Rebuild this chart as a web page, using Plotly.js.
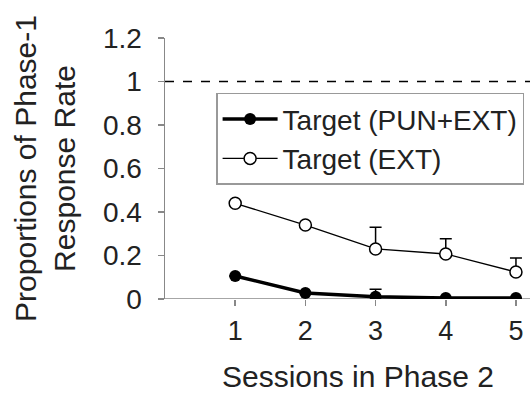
<!DOCTYPE html>
<html><head><meta charset="utf-8">
<script src="https://cdn.plot.ly/plotly-3.0.1.min.js"></script>
<style>html,body{margin:0;padding:0;background:#fff;}#chart{width:530px;height:394px;}</style>
</head><body><div id="chart"></div>
<script>
const sessions = [1, 2, 3, 4, 5];
const punExt = [0.106, 0.028, 0.010, 0.005, 0.005];
const punExtErr = [0, 0, 0.035, 0, 0];
const ext = [0.44, 0.34, 0.23, 0.207, 0.124];
const extErr = [0, 0, 0.10, 0.07, 0.065];
const zeros = [0, 0, 0, 0, 0];
const refLine = 1;
const yTicks = [0, 0.2, 0.4, 0.6, 0.8, 1, 1.2];
const yTickText = ['0', '0.2', '0.4', '0.6', '0.8', '1', '1.2'];
const xTitle = 'Sessions in Phase 2';
const yTitle = 'Proportions of Phase-1<br>Response Rate';

const fam = '"Liberation Sans", Arial, sans-serif';
const txt = '#222';

const traces = [
  {x: sessions, y: punExt, name: 'Target (PUN+EXT)', mode: 'lines+markers', type: 'scatter',
   line: {color: '#000', width: 3.5}, marker: {color: '#000', size: 12, symbol: 'circle'},
   error_y: {type: 'data', array: punExtErr, arrayminus: zeros, symmetric: false, color: '#000', thickness: 1.5, width: 6}},
  {x: sessions, y: ext, name: 'Target (EXT)', mode: 'lines+markers', type: 'scatter',
   line: {color: '#000', width: 1.3}, marker: {color: '#fff', size: 12, symbol: 'circle', line: {color: '#000', width: 1.5}},
   error_y: {type: 'data', array: extErr, arrayminus: zeros, symmetric: false, color: '#000', thickness: 1.5, width: 6}}
];

const layout = {
  width: 530, height: 394,
  margin: {l: 165, r: 0, t: 38, b: 95},
  paper_bgcolor: '#fff', plot_bgcolor: '#fff',
  font: {family: fam, size: 27, color: txt},
  showlegend: true,
  legend: {x: 0.14, y: 0.79, xanchor: 'left', yanchor: 'top', bgcolor: '#fff',
    bordercolor: '#999', borderwidth: 1.5, font: {family: fam, size: 28, color: txt},
    tracegroupgap: 0, itemwidth: 55},
  xaxis: {range: [0, 5.2], tickvals: sessions, ticktext: sessions.map(String),
    showgrid: false, zeroline: false, showline: false,
    ticks: 'outside', ticklen: 6, tickcolor: '#888', tickwidth: 1.5, ticklabelstandoff: 2,
    tickfont: {family: fam, size: 27, color: txt}},
  yaxis: {range: [0, 1.2], tickvals: yTicks, ticktext: yTickText,
    showgrid: false, zeroline: false, showline: true, linecolor: '#888', linewidth: 1.5,
    ticks: 'outside', ticklen: 6, tickcolor: '#888', tickwidth: 1.5, ticklabelstandoff: 10,
    tickfont: {family: fam, size: 28, color: txt},
    title: {text: yTitle, font: {family: fam, size: 30, color: txt}, standoff: 18}},
  annotations: [
    {text: xTitle, xref: 'paper', yref: 'paper', x: 0.53, y: 0, yshift: -77,
     xanchor: 'center', yanchor: 'middle', showarrow: false,
     font: {family: fam, size: 30, color: txt}}
  ],
  shapes: [
    {type: 'line', xref: 'paper', yref: 'y', x0: 0, x1: 1, y0: refLine, y1: refLine,
     line: {color: '#000', width: 1.5, dash: 'dash'}},
    {type: 'line', xref: 'paper', yref: 'y', x0: 0, x1: 1, y0: 0, y1: 0,
     line: {color: '#888', width: 1.5}, layer: 'below'}
  ]
};

Plotly.newPlot('chart', traces, layout, {staticPlot: true, displayModeBar: false});
</script></body></html>
